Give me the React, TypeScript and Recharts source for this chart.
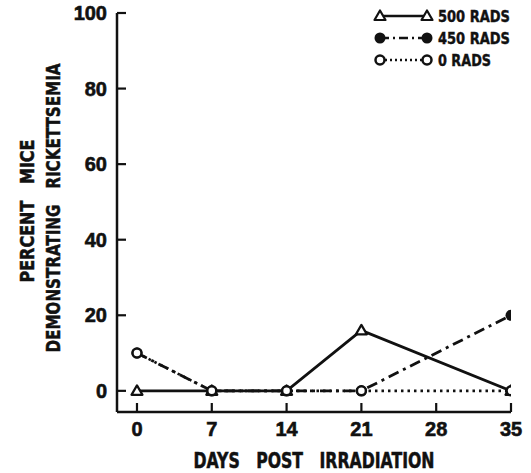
import { Legend, Line, LineChart, XAxis, YAxis } from "recharts";

const days = [0, 7, 14, 21, 35];
const rads500 = [0, 0, 0, 16, 0];
const rads450 = [10, 0, 0, 0, 20];
const rads0 = [10, 0, 0, 0, 0];
const xTicks = [0, 7, 14, 21, 28, 35];
const yTicks = [0, 20, 40, 60, 80, 100];

const data = days.map((d, i) => ({ day: d, r500: rads500[i], r450: rads450[i], r0: rads0[i] }));

const INK = "#111";
const NARROW = "'Liberation Sans Narrow', 'DejaVu Sans Condensed', 'Liberation Sans', sans-serif";
const NUM = "'Liberation Sans', Arial, sans-serif";

const Triangle = ({ cx, cy }: any) =>
  cx == null ? null : (
    <path
      d={`M${cx},${cy - 5.5} L${cx + 5.5},${cy + 4} L${cx - 5.5},${cy + 4} Z`}
      fill="#fff"
      stroke={INK}
      strokeWidth={2.2}
      strokeLinejoin="round"
    />
  );
const Filled = ({ cx, cy }: any) => (cx == null ? null : <circle cx={cx} cy={cy} r={5.5} fill={INK} />);
const Open = ({ cx, cy }: any) =>
  cx == null ? null : <circle cx={cx} cy={cy} r={4.5} fill="#fff" stroke={INK} strokeWidth={2.5} />;

function XTick({ x, y, payload }: any) {
  return (
    <g>
      <line x1={x} y1={y} x2={x} y2={y - 9} stroke={INK} strokeWidth={2.2} />
      <text
        x={x}
        y={y + 24}
        textAnchor="middle"
        fontFamily={NUM}
        fontWeight="bold"
        fontSize={20}
        fill={INK}
        stroke={INK}
        strokeWidth={0.6}
      >
        {payload.value}
      </text>
    </g>
  );
}

function YTick({ x, y, payload }: any) {
  return (
    <g>
      <line x1={x} y1={y} x2={x + 9} y2={y} stroke={INK} strokeWidth={2.2} />
      <text
        x={x - 10}
        y={y + 7}
        textAnchor="end"
        fontFamily={NUM}
        fontWeight="bold"
        fontSize={20}
        fill={INK}
        stroke={INK}
        strokeWidth={0.6}
      >
        {payload.value}
      </text>
    </g>
  );
}

const legendRows = [
  { label: "500 RADS", len: 72, dash: undefined, Mark: Triangle },
  { label: "450 RADS", len: 72, dash: "9 4 2 4", Mark: Filled },
  { label: "0 RADS", len: 53, dash: "2 3", Mark: Open },
];

function LegendBox() {
  return (
    <svg width={170} height={70}>
      {legendRows.map((r, i) => {
        const y = 16 + i * 22;
        return (
          <g key={r.label}>
            <line x1={20} y1={y} x2={67} y2={y} stroke={INK} strokeWidth={2.4} strokeDasharray={r.dash} />
            <r.Mark cx={20} cy={y} />
            <r.Mark cx={67} cy={y} />
            <text
              x={78}
              y={y + 6}
              fontFamily={NARROW}
              fontWeight="bold"
              fontSize={16}
              fill={INK}
              stroke={INK}
              strokeWidth={0.4}
              textLength={r.len}
              lengthAdjust="spacingAndGlyphs"
            >
              {r.label}
            </text>
          </g>
        );
      })}
    </svg>
  );
}

function YTitle() {
  return (
    <g fontFamily={NARROW} fontWeight="bold" fontSize={20} fill={INK} stroke={INK} strokeWidth={0.5}>
      <text
        transform="translate(34,211) rotate(-90)"
        textAnchor="middle"
        style={{ whiteSpace: "pre" }}
        textLength={143}
        lengthAdjust="spacingAndGlyphs"
      >
        PERCENT   MICE
      </text>
      <text
        transform="translate(60,208) rotate(-90)"
        textAnchor="middle"
        style={{ whiteSpace: "pre" }}
        textLength={289}
        lengthAdjust="spacingAndGlyphs"
      >
        DEMONSTRATING   RICKETTSEMIA
      </text>
    </g>
  );
}

function XTitle() {
  return (
    <text
      x={314}
      y={468}
      textAnchor="middle"
      fontFamily={NARROW}
      fontWeight="bold"
      fontSize={22}
      fill={INK}
      stroke={INK}
      strokeWidth={0.5}
      style={{ whiteSpace: "pre" }}
      textLength={241}
      lengthAdjust="spacingAndGlyphs"
    >
      DAYS   POST   IRRADIATION
    </text>
  );
}

export default function App() {
  return (
    <div style={{ position: "absolute", left: 0, top: 0, background: "#fff" }}>
      <LineChart width={531} height={473} data={data} margin={{ top: 13, right: 20, left: 57, bottom: 0 }}>
        <XAxis
          dataKey="day"
          type="number"
          domain={[-1.87, 35]}
          ticks={xTicks}
          allowDataOverflow
          height={61}
          tickSize={0}
          tickMargin={0}
          tickLine={false}
          tick={<XTick />}
          axisLine={{ stroke: INK, strokeWidth: 2.5 }}
          label={{ content: <XTitle /> }}
        />
        <YAxis
          type="number"
          domain={[-5.6, 100]}
          ticks={yTicks}
          allowDataOverflow
          width={60}
          tickSize={0}
          tickMargin={0}
          tickLine={false}
          tick={<YTick />}
          axisLine={{ stroke: INK, strokeWidth: 2.5 }}
          label={{ content: <YTitle /> }}
        />
        <Legend
          layout="horizontal"
          verticalAlign="middle"
          align="center"
          wrapperStyle={{ top: 0, left: 360, width: 170, height: 70 }}
          content={<LegendBox />}
        />
        <Line dataKey="r500" stroke={INK} strokeWidth={2.8} dot={<Triangle />} isAnimationActive={false} />
        <Line
          dataKey="r450"
          stroke={INK}
          strokeWidth={2.8}
          strokeDasharray="11 5 3 5"
          dot={<Filled />}
          isAnimationActive={false}
        />
        <Line
          dataKey="r0"
          stroke={INK}
          strokeWidth={2.6}
          strokeDasharray="2.5 4"
          dot={<Open />}
          isAnimationActive={false}
        />
      </LineChart>
    </div>
  );
}
